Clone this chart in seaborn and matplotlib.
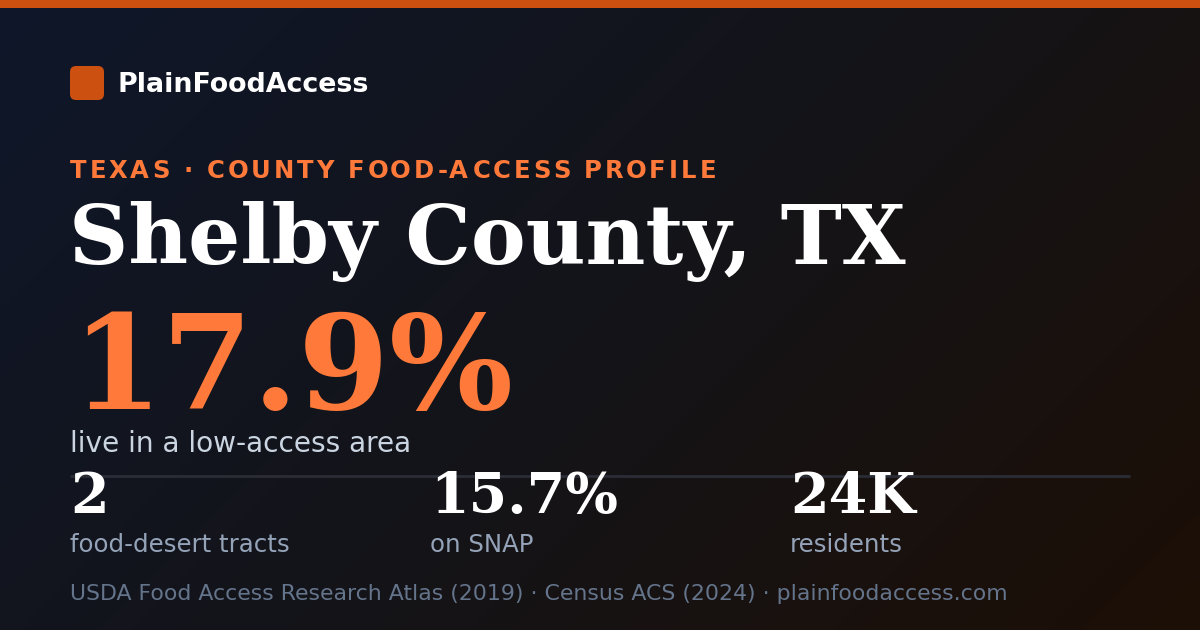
import numpy as np
import matplotlib
matplotlib.use("Agg")
import matplotlib.pyplot as plt
import seaborn as sns
from matplotlib.patches import FancyBboxPatch, Rectangle
from matplotlib.colors import LinearSegmentedColormap
from matplotlib.font_manager import FontProperties

# card content
brand = "PlainFoodAccess"
state = "TEXAS"
county = "Shelby County, TX"
low_access_pct = 17.9
headline_label = "live in a low-access area"
stat_values = ["2", "15.7%", "24K"]
stat_labels = ["food-desert tracts", "on SNAP", "residents"]
sources = ["USDA Food Access Research Atlas (2019)", "Census ACS (2024)", "plainfoodaccess.com"]

sns.set_theme(style="white")
plt.rcParams['font.family'] = ['DejaVu Sans']

W, H = 1200, 630
fig = plt.figure(figsize=(12, 6.3), dpi=100)
ax = fig.add_axes([0, 0, 1, 1])
ax.set_xlim(0, W)
ax.set_ylim(H, 0)
ax.axis('off')

# diagonal background gradient, navy top-left -> dark brown bottom-right
bg = LinearSegmentedColormap.from_list("bg", ["#0f172a", "#141419", "#1c0f06"])
xx, yy = np.meshgrid(np.linspace(0, 1, 240), np.linspace(0, 1, 126))
ax.imshow((xx * W + yy * H) / (W + H), cmap=bg, extent=[0, W, H, 0],
          aspect='auto', zorder=0, interpolation='bicubic')

orange = "#cc5010"
accent = "#ff7a3a"

# top bar
ax.add_patch(Rectangle((0, 0), W, 8, color=orange, zorder=1, lw=0))

# logo
ax.add_patch(FancyBboxPatch((70, 66), 34, 34, boxstyle="round,pad=0,rounding_size=6",
                            fc=orange, ec='none', zorder=2))
ax.text(118, 92, brand, fontsize=19.4, fontweight='bold', color='white',
        va='baseline', ha='left', zorder=3)

# spaced-out kicker line
renderer = fig.canvas.get_renderer()
kicker = f"{state} · COUNTY FOOD-ACCESS PROFILE"
kp = FontProperties(family='DejaVu Sans', weight='bold', size=17.5)
base_w = renderer.get_text_width_height_descent("XX", kp, ismath=False)[0]
natural = renderer.get_text_width_height_descent("X" + kicker + "X", kp, ismath=False)[0] - base_w
spacing = (646 - natural) / (len(kicker) - 1)
for i, ch in enumerate(kicker):
    adv = renderer.get_text_width_height_descent("X" + kicker[:i] + "X", kp, ismath=False)[0] - base_w
    ax.text(70 + adv + i * spacing, 178, ch, fontproperties=kp, color=accent,
            va='baseline', ha='left', zorder=3)

# county name
ax.text(69, 264, county, family='DejaVu Serif', fontweight='bold', fontsize=59.2,
        color='white', va='baseline', ha='left', zorder=3)

# headline number
ax.text(71, 409, f"{low_access_pct:.1f}%", family='DejaVu Serif', fontweight='bold',
        fontsize=94, color=accent, va='baseline', ha='left', zorder=3)
ax.text(70, 452, headline_label, fontsize=20.2, color='#cbd5e1',
        va='baseline', ha='left', zorder=3)

# divider
ax.plot([70, 1130], [476, 476], color='#2a2d36', lw=2, zorder=2, solid_capstyle='butt')

# stat row
for i, (v, lab) in enumerate(zip(stat_values, stat_labels)):
    x = 70 + i * 360
    ax.text(x, 513, v, family='DejaVu Serif', fontweight='bold', fontsize=40,
            color='white', va='baseline', ha='left', zorder=3)
    ax.text(x, 552, lab, fontsize=17.6, color='#94a3b8', va='baseline', ha='left', zorder=3)

# footer
ax.text(70, 600, " · ".join(sources), fontsize=15.8, color='#64748b',
        va='baseline', ha='left', zorder=3)

fig.savefig("out.png", dpi=100)
